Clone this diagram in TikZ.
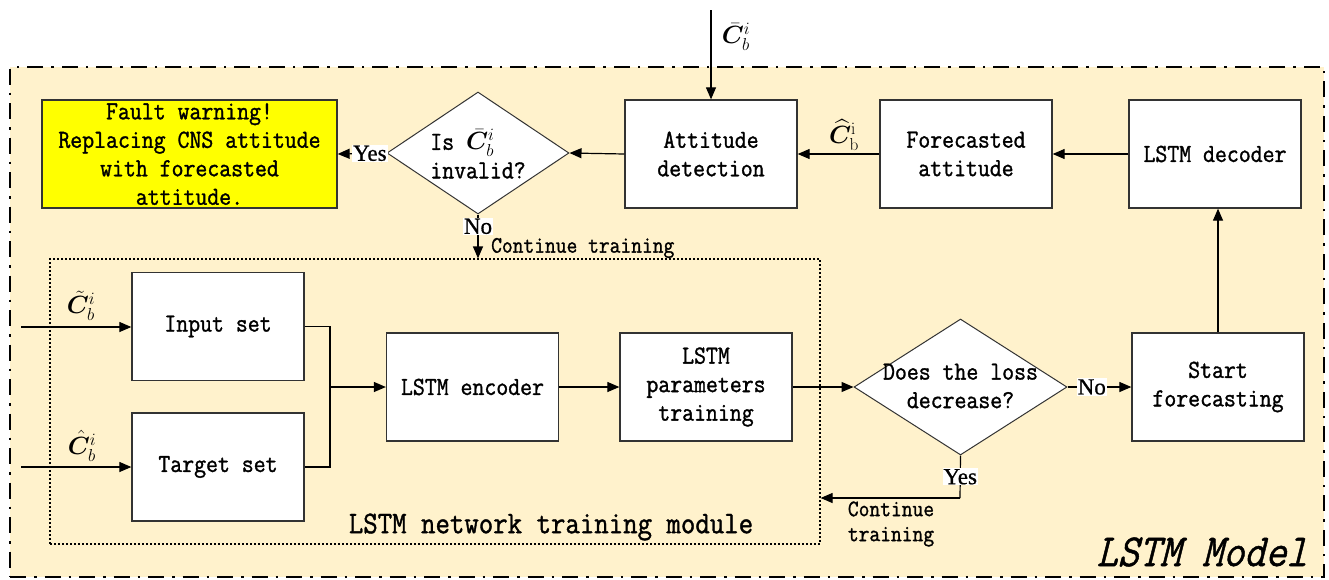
\documentclass[tikz,border=0pt]{standalone}
\usepackage{amsmath,bm}
\usepackage[no-math]{fontspec}
\setmainfont{Latin Modern Mono}[FakeStretch=0.89,FakeBold=1.2]
\newfontfamily\labfont{Liberation Serif}[FakeBold=0.8]
\newfontfamily\modfont{Latin Modern Mono}[FakeStretch=0.89,FakeSlant=0.25,FakeBold=1]
\usetikzlibrary{arrows.meta,shapes.geometric}
\definecolor{bgyel}{RGB}{255,242,204}
\definecolor{warnyel}{RGB}{255,255,0}
\definecolor{edgegray}{RGB}{51,51,51}
\begin{document}
\begin{tikzpicture}[x=1pt,y=-1pt,
  box/.style={draw=edgegray,line width=1.3pt,fill=white,minimum width=172pt,minimum height=108pt,inner sep=0pt,align=center,font=\fontsize{26}{28.5}\selectfont},
  dia/.style={draw=edgegray,line width=1pt,fill=white,diamond,inner sep=0pt},
  arr/.style={line width=1.2pt,-{Triangle[length=12pt,width=10pt]}},
  plain/.style={line width=1.2pt},
  yn/.style={fill=white,inner sep=1pt,font=\labfont\fontsize{23}{24}\selectfont},
  txt/.style={inner sep=0pt,font=\fontsize{26}{28.5}\selectfont},
  small/.style={inner sep=0pt,align=left,font=\fontsize{23.5}{25}\selectfont},
  mathlab/.style={inner sep=0pt,font=\fontsize{27}{27}\selectfont}]
\useasboundingbox (0,0) rectangle (1329,579);
% outer frame
\node[draw=black,fill=bgyel,line width=2.5pt,dash pattern=on 16pt off 8pt on 2.5pt off 8pt,minimum width=1314pt,minimum height=510pt,inner sep=0pt] (frame) at (667,322) {};
% inner module
\node[draw=black,line width=1.2pt,dash pattern=on 2pt off 2pt,minimum width=770pt,minimum height=285pt,inner sep=0pt] (mod) at (435,401.5) {};
% top row
\node[box,fill=warnyel,minimum width=295pt] (fw) at (189.5,154) {Fault warning!\\Replacing CNS attitude\\with forecasted\\attitude.};
\node[dia,minimum width=182pt,minimum height=122pt] (d1) at (478,153) {};
\node[txt,align=left] (d1t) at (478,154) {Is $\bar{\bm C}^i_b$\\invalid?};
\node[box] (att) at (711,154) {Attitude\\detection};
\node[box] (fc) at (966,154) {Forecasted\\attitude};
\node[box] (dec) at (1215,154) {LSTM decoder};
% module row
\node[box] (in) at (218,326.5) {Input set};
\node[box] (tg) at (218,467) {Target set};
\node[box] (enc) at (472.5,387) {LSTM encoder};
\node[box] (par) at (706,387) {LSTM\\parameters\\training};
\node[dia,minimum width=213pt,minimum height=136pt] (d2) at (960.5,387) {};
\node[txt,align=center] (d2t) at (960.5,386) {Does the loss\\decrease?};
\node[box] (sf) at (1218,387) {Start\\forecasting};
% coordinates
\coordinate (cin) at (711,10);
\coordinate (inA) at (21,327);
\coordinate (inB) at (21,467);
\coordinate (mg) at (330,387);
\coordinate (ct) at (960,498);
% connectors
\draw[arr] (cin) -- (att.north);
\draw[arr] (att.west) -- (d1.east);
\draw[arr] (d1.west) -- node[yn,pos=0.34] {Yes} (fw.east);
\draw[arr] (fc.west) -- (att.east);
\draw[arr] (dec.west) -- (fc.east);
\draw[arr] (sf.north) -- (sf.north |- dec.south);
\draw[arr] (d1.south) -- node[yn,pos=0.27] {No} (d1.south |- mod.north);
\draw[arr] (inA) -- (in.west |- inA);
\draw[arr] (inB) -- (tg.west |- inB);
\draw[plain] (in.east) -| (mg);
\draw[plain] (tg.east) -| (mg);
\draw[arr] (mg) -- (enc.west);
\draw[arr] (enc.east) -- (par.west);
\draw[arr] (par.east) -- (d2.west);
\draw[arr] (d2.east) -- node[yn,pos=0.38] {No} (sf.west);
\draw[plain] (d2.south) -- node[yn] {Yes} (ct);
\draw[arr] (ct) -- (ct -| mod.east);
% labels
\node[mathlab] (lc1) at (736,37) {$\bar{\bm C}^i_b$};
\node[mathlab] (lc2) at (844,135) {$\widehat{\bm C}^{\mathrm{i}}_{\mathrm{b}}$};
\node[mathlab] (lc3) at (81,306) {$\tilde{\bm C}^i_b$};
\node[mathlab] (lc4) at (82,446) {$\hat{\bm C}^i_b$};
\node[small,anchor=west] (ctl1) at (491,248) {Continue training};
\node[small,align=left] (ctl2) at (891,524) {Continue\\training};
\node[inner sep=0pt,font=\fontsize{31.5}{32}\selectfont] (modl) at (551,527) {LSTM network training module};
\node[inner sep=0pt,font=\modfont\fontsize{46}{48}\selectfont] (mdl) at (1202,552) {LSTM Model};
\end{tikzpicture}
\end{document}
